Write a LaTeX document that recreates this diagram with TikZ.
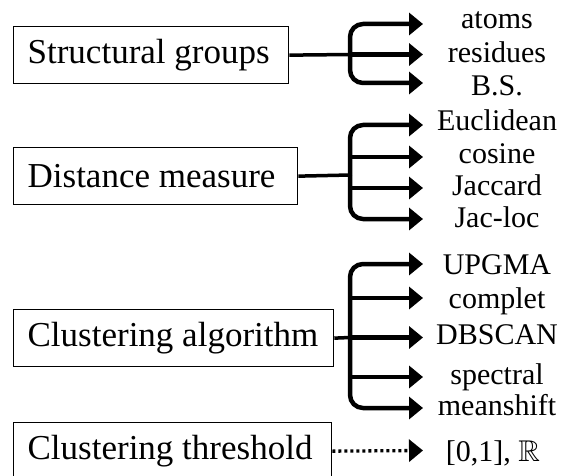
\documentclass[tikz,border=0pt]{standalone}
\usepackage{fontspec}
\setmainfont{Liberation Serif}
\usepackage{amssymb}
\usetikzlibrary{arrows.meta}
\newcommand{\boxtext}[2]{\makebox[#1][l]{#2}}
\begin{document}
\begin{tikzpicture}[x=1pt,y=-1pt,
  box/.style={draw, line width=1.3pt, anchor=north west, minimum height=57pt,
    inner xsep=14pt, inner ysep=0pt, font=\fontsize{35}{40}\selectfont},
  item/.style={anchor=base, inner sep=0pt, font=\fontsize{30}{34}\selectfont},
  stub/.style={line width=3.5pt},
  tipstyle/.style={-{Triangle[length=14pt,width=22pt]}},
  br/.style={line width=4.5pt, rounded corners=13pt, tipstyle},
  dotarrow/.style={line width=3.3pt, dash pattern=on 3pt off 3pt, tipstyle},
]
\useasboundingbox (0,0) rectangle (562,476);
\clip (0,0) rectangle (562,476);

% boxes
\node[box] (b1) at (13,26) {\boxtext{247pt}{Structural groups}};
\node[box] (b2) at (13,147) {\boxtext{256pt}{Distance measure}};
\node[box] (b3) at (13,309) {\boxtext{292pt}{Clustering algorithm}};
\node[box] (b4) at (13,422) {\boxtext{290pt}{Clustering threshold}};

% junctions and trunk points
\coordinate (j1) at (350,54.5);
\coordinate (j2) at (350,175);
\coordinate (t22) at (350,157);
\coordinate (t23) at (350,188);
\coordinate (j3) at (350,337.5);
\coordinate (t32) at (350,298);
\coordinate (t34) at (350,377);

% arrow ends
\coordinate (e11) at (423,24);
\coordinate (e12) at (423,54.5);
\coordinate (e13) at (423,83);
\coordinate (e21) at (423,125);
\coordinate (e22) at (423,157);
\coordinate (e23) at (423,188);
\coordinate (e24) at (423,219);
\coordinate (e31) at (423,264);
\coordinate (e32) at (423,298);
\coordinate (e33) at (423,337.5);
\coordinate (e34) at (423,377);
\coordinate (e35) at (423,408);
\coordinate (e41) at (423,450.5);

% labels
\node[item] (l11) at (497,29) {atoms};
\node[item] (l12) at (497,63) {residues};
\node[item] (l13) at (497,96) {B.S.};
\node[item] (l21) at (497,131) {Euclidean};
\node[item] (l22) at (497,164) {cosine};
\node[item] (l23) at (497,195) {Jaccard};
\node[item] (l24) at (497,227) {Jac-loc};
\node[item] (l31) at (497,274) {UPGMA};
\node[item] (l32) at (497,308) {complet};
\node[item] (l33) at (497,344) {DBSCAN};
\node[item] (l34) at (497,384) {spectral};
\node[item] (l35) at (497,415) {meanshift};
\node[item] (l41) at (493,461) {[0,1], $\mathbb{R}$};

% bracket 1
\draw[stub] (b1.east) -- (j1);
\draw[br] (j1) |- (e11);
\draw[br] (j1) -- (e12);
\draw[br] (j1) |- (e13);

% bracket 2
\draw[stub] (b2.east) -- (j2);
\draw[br] (j2) |- (e21);
\draw[br] (t22) -- (e22);
\draw[br] (t23) -- (e23);
\draw[br] (j2) |- (e24);

% bracket 3
\draw[stub] (b3.east) -- (j3);
\draw[br] (j3) |- (e31);
\draw[br] (t32) -- (e32);
\draw[br] (j3) -- (e33);
\draw[br] (t34) -- (e34);
\draw[br] (j3) |- (e35);

% threshold
\draw[dotarrow] (b4.east) -- (e41);
\end{tikzpicture}
\end{document}
